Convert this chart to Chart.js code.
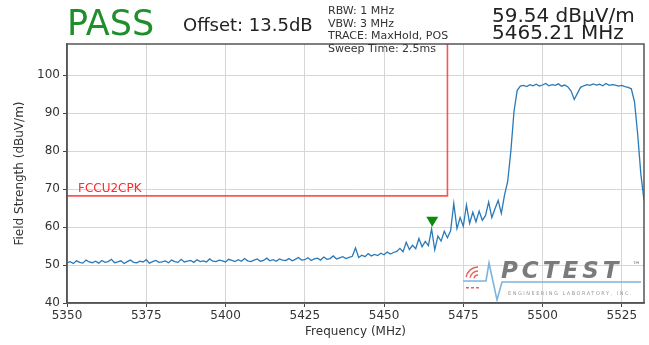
<!DOCTYPE html>
<html>
<head>
<meta charset="utf-8">
<script src="https://cdn.jsdelivr.net/npm/chart.js@4.4.1/dist/chart.umd.min.js"></script>
<style>
  html, body { margin: 0; padding: 0; background: #fff; }
  #wrap { width: 649px; height: 345px; }
</style>
</head>
<body>
<div id="wrap"><canvas id="emissionChart" width="649" height="345"></canvas></div>
<script>
// sweep: 5350 MHz upward, 1 MHz per reading
const startFreq = 5350;
const stepFreq = 1;
const levels = [
  50.6, 50.9, 50.4, 51.1, 50.7, 50.5, 51.3, 50.8, 50.6, 51.0,
  50.5, 51.2, 50.7, 50.9, 51.5, 50.6, 50.8, 51.1, 50.4, 50.9,
  51.3, 50.7, 50.6, 51.0, 50.8, 51.4, 50.5, 50.9, 51.2, 50.7,
  50.8, 51.1, 50.6, 51.3, 50.9, 50.7, 51.5, 50.8, 51.0, 51.2,
  50.7, 51.4, 50.9, 51.1, 50.8, 51.6, 51.0, 50.9, 51.3, 51.1,
  50.8, 51.5, 51.2, 50.9, 51.4, 51.0, 51.7, 51.1, 50.9, 51.3,
  51.6, 51.0, 51.2, 51.8, 51.1, 51.4, 51.0, 51.6, 51.3, 51.2,
  51.7, 51.1, 51.5, 52.0, 51.3, 51.4, 51.9, 51.2, 51.6, 51.8,
  51.3, 52.1, 51.5, 51.7, 52.4, 51.6, 51.9, 52.2, 51.7, 52.0,
  52.3, 54.5, 52.0, 52.6, 52.2, 53.0, 52.4, 52.8, 52.5, 53.1,
  52.7, 53.4, 52.9, 53.3,
  53.6, 54.4, 53.5, 56.0, 54.1, 55.2, 54.3, 57.0, 54.8, 56.2,
  55.1, 59.5, 54.0, 57.6, 56.3, 58.9, 57.2, 59.0, 66.2, 59.6,
  62.5, 60.2, 65.8, 61.0, 63.9, 61.4, 64.2, 61.8, 63.0, 66.6,
  62.5, 64.8, 67.0, 63.6, 68.4, 72.0, 80.0, 90.5, 96.0, 97.1,
  97.3, 97.0, 97.5, 97.2, 97.6, 97.1, 97.4, 97.8, 97.2, 97.5,
  97.3, 97.7, 97.1, 97.4,
  96.9, 95.8, 93.6, 95.2, 96.8,
  97.2, 97.5, 97.3, 97.7, 97.4, 97.6, 97.2, 97.8, 97.3, 97.5,
  97.4, 97.1, 97.3, 97.0, 96.8,
  96.4, 93.0, 84.5, 74.0, 67.0
];
const freqs = levels.map((v, i) => startFreq + i * stepFreq);

const xTicks = [5350, 5375, 5400, 5425, 5450, 5475, 5500, 5525];
const yTicks = [40, 50, 60, 70, 80, 90, 100];

const limitName = 'FCCU2CPK';
const limitFreqs = [5350, 5470, 5470];
const limitLevels = [68.2, 68.2, 108.2];

const markerFreq = 5465.21;
const markerLevel = 59.54;

const settingLines = ['RBW: 1 MHz', 'VBW: 3 MHz', 'TRACE: MaxHold, POS', 'Sweep Time: 2.5ms'];

const FONT = '"DejaVu Sans", sans-serif';

// frame, limit label, marker, header texts and logo
const extras = {
  id: 'extras',
  afterDatasetsDraw(chart) {
    const ctx = chart.ctx;
    const x = chart.scales.x, y = chart.scales.y;
    ctx.save();
    ctx.fillStyle = '#ff2a2a';
    ctx.font = '12px ' + FONT;
    ctx.fillText(limitName, x.getPixelForValue(limitFreqs[0]) + 11, y.getPixelForValue(limitLevels[0]) - 4);

    const mx = x.getPixelForValue(markerFreq);
    const my = y.getPixelForValue(markerLevel);
    ctx.fillStyle = '#0b8a0b';
    ctx.beginPath();
    ctx.moveTo(mx, my - 2);
    ctx.lineTo(mx - 6, my - 12);
    ctx.lineTo(mx + 6, my - 12);
    ctx.closePath();
    ctx.fill();
    ctx.restore();
  },
  afterDraw(chart) {
    const ctx = chart.ctx;
    const a = chart.chartArea;
    ctx.save();
    ctx.strokeStyle = '#555';
    ctx.lineWidth = 1.5;
    ctx.strokeRect(a.left, a.top, a.right - a.left, a.bottom - a.top);

    // logo watermark
    ctx.strokeStyle = '#7db3dd';
    ctx.lineWidth = 1.6;
    ctx.beginPath();
    ctx.moveTo(463, 281); ctx.lineTo(486, 281); ctx.lineTo(489, 263);
    ctx.lineTo(497, 300); ctx.lineTo(502, 282); ctx.lineTo(641, 282);
    ctx.stroke();
    ctx.strokeStyle = '#e86060';
    ctx.lineWidth = 1.4;
    for (const r of [4, 8, 12]) {
      ctx.beginPath();
      ctx.arc(478, 279, r, Math.PI * 1.05, Math.PI * 1.5);
      ctx.stroke();
    }
    ctx.fillStyle = '#e86060';
    for (const dx of [466, 471, 476]) ctx.fillRect(dx, 287, 3, 1.5);
    ctx.fillStyle = '#7a7a7a';
    ctx.font = 'italic bold 23px ' + FONT;
    ctx.letterSpacing = '4px';
    ctx.fillText('PCTEST', 501, 278);
    ctx.font = '9px ' + FONT;
    ctx.letterSpacing = '0px';
    ctx.fillText('™', 632, 268);
    ctx.font = '5px ' + FONT;
    ctx.letterSpacing = '1.5px';
    ctx.fillStyle = '#999';
    ctx.fillText('ENGINEERING LABORATORY, INC.', 508, 295);
    ctx.letterSpacing = '0px';

    // header
    ctx.fillStyle = '#1e8f2a';
    ctx.font = '35px ' + FONT;
    ctx.fillText('PASS', 67, 35);
    ctx.fillStyle = '#222';
    ctx.font = '18px ' + FONT;
    ctx.fillText('Offset: 13.5dB', 183, 31);
    ctx.font = '11px ' + FONT;
    ctx.fillStyle = '#333';
    settingLines.forEach((t, i) => ctx.fillText(t, 328, 14 + i * 12.6));
    ctx.fillStyle = '#222';
    ctx.font = '20px ' + FONT;
    ctx.fillText(markerLevel.toFixed(2) + ' dBµV/m', 492, 22);
    ctx.fillText(markerFreq.toFixed(2) + ' MHz', 492, 39);
    ctx.restore();
  }
};

const data = {
  datasets: [{
    label: 'Trace',
    data: freqs.map((f, i) => ({ x: f, y: levels[i] })),
    borderColor: '#2a7ab8',
    borderWidth: 1.3,
    pointRadius: 0,
    tension: 0
  }, {
    label: limitName,
    data: limitFreqs.map((f, i) => ({ x: f, y: limitLevels[i] })),
    borderColor: 'rgba(255, 40, 40, 0.8)',
    borderWidth: 1.6,
    pointRadius: 0,
    tension: 0
  }]
};

const tickFont = { family: FONT, size: 12 };

const config = {
  type: 'line',
  data: data,
  options: {
    responsive: false,
    animation: false,
    devicePixelRatio: 1,
    layout: { padding: { top: 44, right: 5, left: 0, bottom: 0 } },
    plugins: {
      legend: { display: false },
      tooltip: { enabled: false }
    },
    scales: {
      x: {
        type: 'linear',
        min: 5350,
        max: 5532,
        afterBuildTicks: (s) => { s.ticks = xTicks.map(v => ({ value: v })); },
        afterFit: (s) => { s.height = 42; },
        ticks: { font: tickFont, color: '#333', padding: 2, maxRotation: 0, callback: (v) => String(v) },
        grid: { color: '#d6d6d6', tickColor: '#444', tickLength: 4 },
        border: { color: '#555', width: 1.5 },
        title: {
          display: true,
          text: 'Frequency (MHz)',
          font: tickFont,
          color: '#333',
          padding: { top: 0, bottom: 6 }
        }
      },
      y: {
        min: 40,
        max: 108.2,
        afterBuildTicks: (s) => { s.ticks = yTicks.map(v => ({ value: v })); },
        afterFit: (s) => { s.width = 67; },
        ticks: { font: tickFont, color: '#333', padding: 3 },
        grid: { color: '#d6d6d6', tickColor: '#444', tickLength: 4 },
        border: { color: '#555', width: 1.5 },
        title: {
          display: true,
          text: 'Field Strength (dBuV/m)',
          font: tickFont,
          color: '#333',
          padding: { top: 13, bottom: 0 }
        }
      }
    }
  },
  plugins: [extras]
};

new Chart(document.getElementById('emissionChart').getContext('2d'), config);
</script>
</body>
</html>
